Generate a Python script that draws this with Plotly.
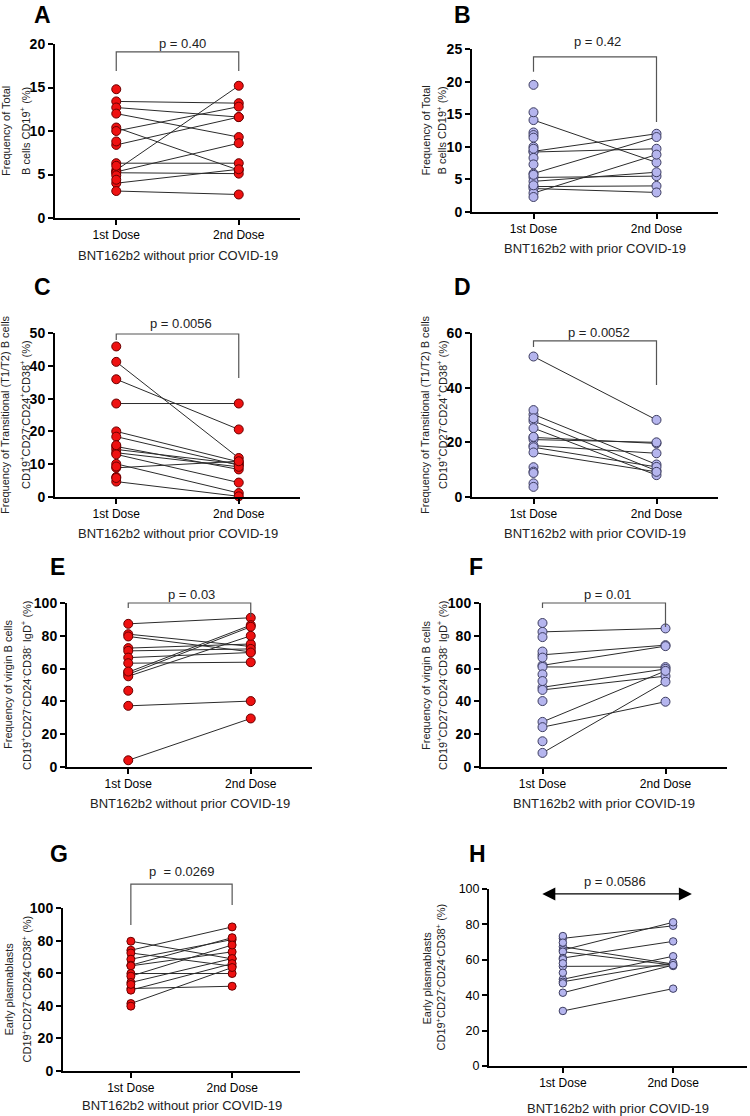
import plotly.graph_objects as go

W, H = 750, 1116
FONT = "Liberation Sans, Arial, sans-serif"

doses = ["1st Dose", "2nd Dose"]

# A - total B cells, without prior COVID-19
a_pair_1st = [13.4, 12.7, 12.0, 10.4, 10.0, 8.4, 5.5, 5.3, 6.3, 5.2, 4.0, 3.1]
a_pair_2nd = [13.2, 11.6, 9.3, 5.5, 12.8, 11.6, 15.2, 8.6, 6.3, 5.1, 5.6, 2.7]
a_only_1st = [14.8, 8.8, 6.0, 4.9, 4.4]

# B - total B cells, with prior COVID-19
b_pair_1st = [14.1, 9.3, 9.2, 5.9, 5.3, 4.7, 3.9, 3.6, 2.9]
b_pair_2nd = [7.6, 12.0, 9.7, 11.5, 5.5, 6.1, 4.0, 3.0, 8.8]
b_only_1st = [19.5, 15.3, 12.2, 11.8, 11.4, 10.0, 9.7, 8.3, 7.3, 5.7, 4.1, 2.3]

# C - transitional B cells, without prior COVID-19
c_pair_1st = [41.2, 35.9, 28.5, 20.0, 18.4, 15.4, 14.5, 13.5, 13.0, 10.1, 8.9, 4.7]
c_pair_2nd = [11.9, 20.6, 28.5, 10.7, 9.7, 8.4, 10.1, 9.2, 4.4, 1.2, 10.9, 0.2]
c_only_1st = [45.9, 15.8, 9.3, 6.1, 5.8]

# D - transitional B cells, with prior COVID-19
d_pair_1st = [51.4, 30.2, 27.8, 25.2, 21.8, 21.0, 18.8, 18.2, 16.3]
d_pair_2nd = [28.2, 11.9, 9.6, 8.0, 19.6, 20.0, 16.0, 11.0, 9.2]
d_only_1st = [31.8, 28.8, 22.0, 10.9, 9.3, 8.8, 5.0, 3.7]

# E - virgin B cells, without prior COVID-19
e_pair_1st = [87.3, 81.0, 79.6, 72.5, 70.8, 66.7, 63.3, 57.8, 56.5, 55.3, 37.3, 4.1]
e_pair_2nd = [91.0, 73.5, 70.2, 75.0, 72.0, 69.8, 63.9, 86.5, 85.5, 80.0, 40.2, 29.6]
e_only_1st = [46.5, 58.2]

# F - virgin B cells, with prior COVID-19
f_pair_1st = [82.4, 68.4, 62.0, 61.0, 48.6, 47.0, 27.5, 24.3, 8.6]
f_pair_2nd = [84.5, 74.3, 73.7, 60.9, 59.8, 55.4, 58.6, 39.8, 52.0]
f_only_1st = [87.8, 79.2, 70.4, 66.7, 56.5, 52.4, 40.2, 15.7]

# G - early plasmablasts, without prior COVID-19
g_pair_1st = [79.6, 74.1, 72.4, 68.6, 64.9, 64.5, 59.8, 58.2, 54.3, 50.6, 49.6, 41.4]
g_pair_2nd = [68.8, 88.4, 64.3, 80.6, 81.8, 73.1, 59.8, 77.3, 69.0, 52.0, 65.9, 63.5]
g_only_1st = [39.8, 53.1]

# H - early plasmablasts, with prior COVID-19
h_pair_1st = [72.1, 67.4, 65.5, 64.6, 61.0, 56.3, 49.0, 47.6, 41.4, 31.1]
h_pair_2nd = [79.2, 57.6, 81.2, 57.0, 70.4, 56.5, 62.0, 58.2, 57.0, 43.7]
h_only_1st = [73.4, 69.7, 60.3, 58.0, 52.7, 46.7]

p_values = ["p = 0.40", "p = 0.42", "p = 0.0056", "p = 0.0052",
            "p = 0.03", "p = 0.01", "p  = 0.0269", "p = 0.0586"]

without_label = "BNT162b2 without prior COVID-19"
with_label = "BNT162b2 with prior COVID-19"

title_total = ["Frequency of Total", "B cells CD19<sup>+</sup> (%)"]
title_trans = ["Frequency of Transitional (T1/T2) B cells",
               "CD19<sup>+</sup>CD27<sup>-</sup>CD24<sup>+</sup>CD38<sup>+</sup> (%)"]
title_virgin = ["Frequency of virgin B cells",
                "CD19<sup>+</sup>CD27<sup>-</sup>CD24<sup>-</sup>CD38<sup>-</sup> IgD<sup>+</sup> (%)"]
title_early = ["Early plasmablasts",
               "CD19<sup>+</sup>CD27<sup>-</sup>CD24<sup>-</sup>CD38<sup>+</sup> (%)"]

RED = dict(color="#ee1111", line=dict(color="#6a0000", width=1))
LAV = dict(color="#b5b5ee", line=dict(color="#3c3c60", width=1))

# layout (pixels): axis box x0, x1, y_top, y_bottom, x range, y max, dtick
panels = [
    dict(letter="A", p1=a_pair_1st, p2=a_pair_2nd, o1=a_only_1st, mk=RED, size=9,
         box=(55, 300, 44, 218), xr=(-0.5, 1.5), ymax=20, dtick=5,
         title=title_total, tx=(6, 25), xlab=without_label, xlab_y=255,
         let_xy=(42, 15), p_xy=(0.54, 43), br=(16.9, 19.1, 16.9), bold=True),
    dict(letter="B", p1=b_pair_1st, p2=b_pair_2nd, o1=b_only_1st, mk=LAV, size=9,
         box=(472, 718, 49, 212), xr=(-0.5, 1.5), ymax=25, dtick=5,
         title=title_total, tx=(425, 441), xlab=with_label, xlab_y=248,
         let_xy=(462, 15), p_xy=(0.52, 42), br=(21.5, 23.8, 13.8), bold=True),
    dict(letter="C", p1=c_pair_1st, p2=c_pair_2nd, o1=c_only_1st, mk=RED, size=9,
         box=(55, 300, 333, 497), xr=(-0.5, 1.5), ymax=50, dtick=10,
         title=title_trans, tx=(5, 25), xlab=without_label, xlab_y=533,
         let_xy=(42, 287), p_xy=(0.53, 323), br=(47.9, 49.7, 36.3), bold=True),
    dict(letter="D", p1=d_pair_1st, p2=d_pair_2nd, o1=d_only_1st, mk=LAV, size=9,
         box=(472, 718, 333, 497), xr=(-0.5, 1.5), ymax=60, dtick=20,
         title=title_trans, tx=(425, 442), xlab=with_label, xlab_y=533,
         let_xy=(462, 287), p_xy=(0.53, 333), br=(54.9, 57.1, 41.0), bold=True),
    dict(letter="E", p1=e_pair_1st, p2=e_pair_2nd, o1=e_only_1st, mk=RED, size=9,
         box=(67, 312, 603, 767), xr=(-0.5, 1.5), ymax=100, dtick=20,
         title=title_virgin, tx=(8, 26), xlab=without_label, xlab_y=803,
         let_xy=(57, 567), p_xy=(0.52, 594), br=(97.0, 100.0, 91.5), bold=True),
    dict(letter="F", p1=f_pair_1st, p2=f_pair_2nd, o1=f_only_1st, mk=LAV, size=9,
         box=(481, 727, 603, 767), xr=(-0.5, 1.5), ymax=100, dtick=20,
         title=title_virgin, tx=(426, 442), xlab=with_label, xlab_y=803,
         let_xy=(476, 567), p_xy=(0.53, 594), br=(97.0, 100.0, 85.4), bold=True),
    dict(letter="G", p1=g_pair_1st, p2=g_pair_2nd, o1=g_only_1st, mk=RED, size=8,
         box=(63, 300, 908, 1071), xr=(-0.67, 1.67), ymax=100, dtick=20,
         title=title_early, tx=(8, 26), xlab=without_label, xlab_y=1105,
         let_xy=(59, 854), p_xy=(0.5, 871), br=(89.6, 114.7, 101.8), bold=True),
    dict(letter="H", p1=h_pair_1st, p2=h_pair_2nd, o1=h_only_1st, mk=LAV, size=7.5,
         box=(489, 747, 889, 1066), xr=(-0.67, 1.67), ymax=100, dtick=20,
         title=title_early, tx=(426, 440), xlab=with_label, xlab_y=1108,
         let_xy=(477, 854), p_xy=(0.47, 881), br=None, bold=False),
]


def fx(x):
    return x / W


def fy(y):
    return 1 - y / H


fig = go.Figure()
layout = dict(width=W, height=H, margin=dict(l=0, r=0, t=0, b=0, pad=0, autoexpand=False),
              paper_bgcolor="white", plot_bgcolor="white", showlegend=False,
              font=dict(family=FONT, color="black"))
annotations = []
shapes = []

for i, p in enumerate(panels, start=1):
    sfx = "" if i == 1 else str(i)
    xa, ya = "x" + sfx, "y" + sfx

    # connecting lines between paired samples
    lx, ly = [], []
    for v1, v2 in zip(p["p1"], p["p2"]):
        lx += [0, 1, None]
        ly += [v1, v2, None]
    fig.add_trace(go.Scatter(x=lx, y=ly, mode="lines", xaxis=xa, yaxis=ya,
                             line=dict(color="#2b2b2b", width=1), hoverinfo="skip"))

    first = p["p1"] + p["o1"]
    marker = dict(size=p["size"], **p["mk"])
    fig.add_trace(go.Scatter(x=[0] * len(first), y=first, mode="markers",
                             xaxis=xa, yaxis=ya, marker=marker, cliponaxis=False))
    fig.add_trace(go.Scatter(x=[1] * len(p["p2"]), y=p["p2"], mode="markers",
                             xaxis=xa, yaxis=ya, marker=marker, cliponaxis=False))

    x0, x1, yt, yb = p["box"]
    tickfont = dict(family=FONT, size=14 if p["bold"] else 12.5, color="black",
                    weight="bold" if p["bold"] else "normal")
    layout["xaxis" + sfx] = dict(
        domain=[fx(x0), fx(x1)], range=list(p["xr"]), anchor=ya, automargin=False,
        tickvals=[0, 1], ticktext=doses, tickfont=dict(family=FONT, size=12, color="black"),
        showline=True, linewidth=2, linecolor="black", ticks="outside",
        ticklen=5, tickwidth=2, tickcolor="black", showgrid=False, zeroline=False)
    layout["yaxis" + sfx] = dict(
        domain=[fy(yb), fy(yt)], range=[0, p["ymax"]], anchor=xa, automargin=False,
        dtick=p["dtick"], tickfont=tickfont,
        showline=True, linewidth=2, linecolor="black", ticks="outside",
        ticklen=5, tickwidth=2, tickcolor="black", showgrid=False, zeroline=False)

    # y axis title, two separate lines
    yc = (yt + yb) / 2
    for txt, xc in zip(p["title"], p["tx"]):
        annotations.append(dict(text=txt, x=fx(xc), y=fy(yc), xref="paper", yref="paper",
                                textangle=-90, showarrow=False, xanchor="center",
                                yanchor="middle", font=dict(size=11, color="#222")))

    # x axis group label
    annotations.append(dict(text=p["xlab"], x=0.5, xref=xa + " domain", y=fy(p["xlab_y"]),
                            yref="paper", showarrow=False, xanchor="center", yanchor="middle",
                            font=dict(size=13, color="#222")))

    # panel letter
    lx_, ly_ = p["let_xy"]
    annotations.append(dict(text="<b>%s</b>" % p["letter"], x=fx(lx_), y=fy(ly_),
                            xref="paper", yref="paper", showarrow=False,
                            xanchor="center", yanchor="middle",
                            font=dict(size=23, color="black")))

    # p value text
    px_, py_ = p["p_xy"]
    annotations.append(dict(text=p_values[i - 1], x=px_, xref=xa, y=fy(py_), yref="paper",
                            showarrow=False, xanchor="center", yanchor="middle",
                            font=dict(size=13, color="#222")))

    # significance bracket
    if p["br"] is not None:
        left, top, right = [v / p["ymax"] for v in p["br"]]
        shapes.append(dict(type="path", xref=xa, yref=ya + " domain",
                           path="M 0,%f L 0,%f L 1,%f L 1,%f" % (left, top, top, right),
                           line=dict(color="#555", width=1.2)))
    else:
        annotations.append(dict(text="", x=1.17, y=97.2, xref=xa, yref=ya,
                                ax=-0.2, ay=97.2, axref=xa, ayref=ya,
                                showarrow=True, arrowhead=2, arrowside="end+start",
                                arrowsize=2, arrowwidth=1.3, arrowcolor="black",
                                standoff=0, startstandoff=0))

layout["annotations"] = annotations
layout["shapes"] = shapes
fig.update_layout(**layout)

# drop the browser's default page margin so the figure sits at the top-left corner
fig.write_html("out.html", config={"displayModeBar": False},
               post_script="document.body.style.margin = '0';")
